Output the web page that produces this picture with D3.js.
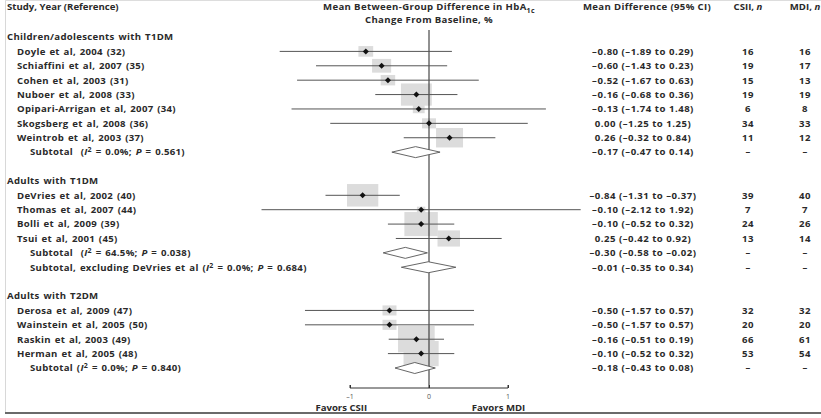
<!DOCTYPE html>
<html lang="en">
<head>
<meta charset="UTF-8">
<title>Forest plot HbA1c</title>
<style>
  body { margin: 0; background: #fff; }
  svg text { font-family: "Open Sans", sans-serif; font-weight: 700; fill: #2a2a2a; white-space: pre; }
</style>
</head>
<body>
<svg id="chart" width="821" height="418"></svg>
<script src="https://cdn.jsdelivr.net/npm/d3@7"></script>
<script>

    const groups = ["Children/adolescents with T1DM", "Adults with T1DM", "Adults with T2DM"]

    const studies = [
        "Doyle et al, 2004 (32)", "Schiaffini et al, 2007 (35)", "Cohen et al, 2003 (31)",
        "Nuboer et al, 2008 (33)", "Opipari-Arrigan et al, 2007 (34)", "Skogsberg et al, 2008 (36)",
        "Weintrob et al, 2003 (37)",
        "DeVries et al, 2002 (40)", "Thomas et al, 2007 (44)", "Bolli et al, 2009 (39)", "Tsui et al, 2001 (45)",
        "Derosa et al, 2009 (47)", "Wainstein et al, 2005 (50)", "Raskin et al, 2003 (49)", "Herman et al, 2005 (48)"
    ]
    const studyGroup = [0, 0, 0, 0, 0, 0, 0, 1, 1, 1, 1, 2, 2, 2, 2]
    const means = [-0.80, -0.60, -0.52, -0.16, -0.13, 0.00, 0.26, -0.84, -0.10, -0.10, 0.25, -0.50, -0.50, -0.16, -0.10]
    const lows  = [-1.89, -1.43, -1.67, -0.68, -1.74, -1.25, -0.32, -1.31, -2.12, -0.52, -0.42, -1.57, -1.57, -0.51, -0.52]
    const highs = [0.29, 0.23, 0.63, 0.36, 1.48, 1.25, 0.84, -0.37, 1.92, 0.32, 0.92, 0.57, 0.57, 0.19, 0.32]
    const csiiN = [16, 19, 15, 19, 6, 34, 11, 39, 7, 24, 13, 32, 20, 66, 53]
    const mdiN  = [16, 17, 13, 19, 8, 33, 12, 40, 7, 26, 14, 32, 20, 61, 54]
    // relative study weight (%)
    const weights = [7.8, 13, 7.5, 34, 5, 7, 26, 35, 2.5, 40, 18, 7, 7, 48, 44]

    const subLabels = ["Subtotal  ", "Subtotal  ", "Subtotal, excluding DeVries et al ", "Subtotal "]
    const subGroup = [0, 1, 1, 2]
    const subI2 = ["0.0%", "64.5%", "0.0%", "0.0%"]
    const subP = ["0.561", "0.038", "0.684", "0.840"]
    const subMeans = [-0.17, -0.30, -0.01, -0.18]
    const subLows  = [-0.47, -0.58, -0.35, -0.43]
    const subHighs = [0.14, -0.02, 0.34, 0.08]

    const ticks = [-1, 0, 1]

    const fmt = v => (v < 0 ? "\u2013" : "") + Math.abs(v).toFixed(2)

    // build row list: header, studies, subtotals, blank
    let rows = []
    groups.forEach((g, gi) => {
        rows.push({ type: "group", label: g })
        studies.forEach((s, i) => {
            if (studyGroup[i] === gi) rows.push({ type: "study", i: i })
        })
        subLabels.forEach((s, i) => {
            if (subGroup[i] === gi) rows.push({ type: "sub", i: i })
        })
        if (gi < groups.length - 1) rows.push({ type: "blank" })
    })
    rows.forEach((r, k) => r.k = k)

    const svg = d3.select("#chart")

    const x = d3.scaleLinear().domain([-1, 1]).range([350, 508])
    const y = d3.scaleLinear().domain([0, rows.length - 1]).range([37, 368])
    const box = d3.scaleSqrt().domain([0, 100]).range([0, 52.9])

    // frame
    svg.append("line").attr("x1", 5.5).attr("x2", 5.5).attr("y1", 0).attr("y2", 413)
        .attr("stroke", "#d8d8d8")
    svg.append("line").attr("x1", 5).attr("x2", 821).attr("y1", 0.5).attr("y2", 0.5)
        .attr("stroke", "#dddddd")
    svg.append("line").attr("x1", 5).attr("x2", 821).attr("y1", 413).attr("y2", 413)
        .attr("stroke", "#6a6a6a").attr("stroke-width", 2)

    // headers
    const head = svg.append("g").attr("font-size", 9.6)
    head.append("text").attr("x", 7).attr("y", 7).attr("dy", "0.35em").text("Study, Year (Reference)")
    let h1 = head.append("text").attr("x", x(0)).attr("y", 7).attr("dy", "0.35em").attr("text-anchor", "middle")
        .attr("letter-spacing", 0.35)
    h1.append("tspan").text("Mean Between-Group Difference in HbA")
    h1.append("tspan").attr("font-size", 7).attr("dy", 3).text("1c")
    head.append("text").attr("x", x(0)).attr("y", 20).attr("dy", "0.35em").attr("text-anchor", "middle")
        .attr("letter-spacing", 0.35).text("Change From Baseline, %")
    head.append("text").attr("x", 647).attr("y", 7).attr("dy", "0.35em").attr("text-anchor", "middle")
        .attr("letter-spacing", 0.35).text("Mean Difference (95% CI)")
    let h3 = head.append("text").attr("x", 748).attr("y", 7).attr("dy", "0.35em").attr("text-anchor", "middle")
    h3.append("tspan").text("CSII, ")
    h3.append("tspan").attr("font-style", "italic").text("n")
    let h4 = head.append("text").attr("x", 805).attr("y", 7).attr("dy", "0.35em").attr("text-anchor", "middle")
    h4.append("tspan").text("MDI, ")
    h4.append("tspan").attr("font-style", "italic").text("n")

    const studyRows = rows.filter(r => r.type === "study")
    const subRows = rows.filter(r => r.type === "sub")

    // weight boxes
    svg.append("g").selectAll("rect").data(studyRows).enter().append("rect")
        .attr("fill", "#dcdcdc")
        .attr("x", r => x(means[r.i]) - box(weights[r.i]) / 2)
        .attr("width", r => box(weights[r.i]))
        .attr("y", r => y(r.k) - box(weights[r.i]) * 0.36)
        .attr("height", r => box(weights[r.i]) * 0.72)

    // zero line
    svg.append("line").attr("x1", x(0)).attr("x2", x(0)).attr("y1", 30).attr("y2", 388)
        .attr("stroke", "#222").attr("stroke-width", 1)

    // CI lines
    svg.append("g").selectAll("line").data(studyRows).enter().append("line")
        .attr("x1", r => x(lows[r.i])).attr("x2", r => x(highs[r.i]))
        .attr("y1", r => y(r.k)).attr("y2", r => y(r.k))
        .attr("stroke", "#555").attr("stroke-width", 1)

    // point estimates
    svg.append("g").selectAll("polygon").data(studyRows).enter().append("polygon")
        .attr("fill", "#111")
        .attr("points", r => {
            let cx = x(means[r.i]), cy = y(r.k)
            return [[cx - 3, cy], [cx, cy - 3], [cx + 3, cy], [cx, cy + 3]].join(" ")
        })

    // subtotal diamonds
    svg.append("g").selectAll("polygon").data(subRows).enter().append("polygon")
        .attr("fill", "#fff").attr("stroke", "#555").attr("stroke-width", 0.9)
        .attr("points", r => {
            let cy = y(r.k)
            return [[x(subLows[r.i]), cy], [x(subMeans[r.i]), cy - 5.5],
                    [x(subHighs[r.i]), cy], [x(subMeans[r.i]), cy + 5.5]].join(" ")
        })

    // left labels
    const lab = svg.append("g").attr("font-size", 9.6).attr("letter-spacing", 0.3).attr("word-spacing", 1)
    lab.selectAll("text.grp").data(rows.filter(r => r.type === "group")).enter().append("text")
        .attr("x", 7).attr("y", r => y(r.k)).attr("dy", "0.35em").text(r => r.label)
    lab.selectAll("text.st").data(studyRows).enter().append("text")
        .attr("x", 17).attr("y", r => y(r.k)).attr("dy", "0.35em").text(r => studies[r.i])
    let subText = lab.selectAll("text.sb").data(subRows).enter().append("text")
        .attr("x", 30).attr("y", r => y(r.k)).attr("dy", "0.35em")
    subText.append("tspan").text(r => subLabels[r.i] + "(")
    subText.append("tspan").attr("font-style", "italic").text("I")
    subText.append("tspan").attr("font-size", 7).attr("dy", -3).text("2")
    subText.append("tspan").attr("dy", 3).text(r => " = " + subI2[r.i] + "; ")
    subText.append("tspan").attr("font-style", "italic").text("P")
    subText.append("tspan").text(r => " = " + subP[r.i] + ")")

    // right columns
    const col = svg.append("g").attr("font-size", 9.6).attr("text-anchor", "middle")
    col.selectAll("text.ci").data(studyRows).enter().append("text")
        .attr("x", 643).attr("y", r => y(r.k)).attr("dy", "0.35em").attr("letter-spacing", 0.5)
        .text(r => fmt(means[r.i]) + " (" + fmt(lows[r.i]) + " to " + fmt(highs[r.i]) + ")")
    col.selectAll("text.sci").data(subRows).enter().append("text")
        .attr("x", 643).attr("y", r => y(r.k)).attr("dy", "0.35em").attr("letter-spacing", 0.5)
        .text(r => fmt(subMeans[r.i]) + " (" + fmt(subLows[r.i]) + " to " + fmt(subHighs[r.i]) + ")")
    col.selectAll("text.cn").data(studyRows).enter().append("text")
        .attr("x", 748).attr("y", r => y(r.k)).attr("dy", "0.35em").attr("letter-spacing", 0.5).text(r => csiiN[r.i])
    col.selectAll("text.mn").data(studyRows).enter().append("text")
        .attr("x", 805).attr("y", r => y(r.k)).attr("dy", "0.35em").attr("letter-spacing", 0.5).text(r => mdiN[r.i])
    col.selectAll("text.cd").data(subRows).enter().append("text")
        .attr("x", 748).attr("y", r => y(r.k)).attr("dy", "0.35em").text("\u2013")
    col.selectAll("text.md").data(subRows).enter().append("text")
        .attr("x", 805).attr("y", r => y(r.k)).attr("dy", "0.35em").text("\u2013")

    // x axis
    const axis = svg.append("g").attr("transform", "translate(0,388)")
        .call(d3.axisTop(x).tickValues(ticks).tickSize(3).tickFormat(""))
    axis.select(".domain").attr("stroke", "#333").attr("d", "M" + x(-1) + ",-3V0H" + x(1) + "V-3")
    axis.selectAll(".tick line").attr("stroke", "#333")
    svg.append("g").selectAll("text").data(ticks).enter().append("text")
        .attr("x", d => x(d)).attr("y", 397).attr("dy", "0.35em").attr("text-anchor", "middle")
        .attr("font-size", 7).style("font-weight", 400).style("fill", "#555")
        .text(d => d < 0 ? "\u2013" + Math.abs(d) : d)
    svg.append("text").attr("x", x(-1.11)).attr("y", 408).attr("dy", "0.35em").attr("text-anchor", "middle")
        .attr("font-size", 9.6).text("Favors CSII")
    svg.append("text").attr("x", x(0.88)).attr("y", 408).attr("dy", "0.35em").attr("text-anchor", "middle")
        .attr("font-size", 9.6).text("Favors MDI")

</script>
</body>
</html>
